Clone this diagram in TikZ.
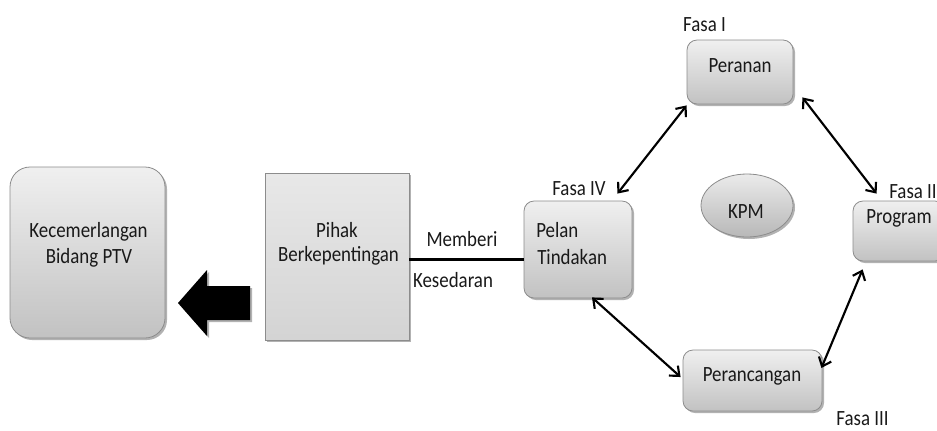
\documentclass[tikz,border=0pt]{standalone}
\usepackage{fontspec}
\setmainfont{Carlito}[FakeStretch=0.87]
\usetikzlibrary{shapes.geometric,shadows,arrows.meta}
\begin{document}
\begin{tikzpicture}[x=0.75pt,y=-0.75pt,
  txt/.style={font=\fontsize{16.3}{19}\selectfont, text=black!90, inner sep=0pt},
  gbox/.style={draw=black!45, line width=0.6pt, top color=black!6, bottom color=black!24,
    drop shadow={shadow xshift=1.5pt,shadow yshift=-1.5pt,opacity=0.3,fill=black},
    inner sep=0pt},
  rbox/.style={gbox, rounded corners=7.5pt},
  dbl/.style={line width=1.6pt, black, {Straight Barb[length=6pt,width=10pt]}-{Straight Barb[length=6pt,width=10pt]}}
]
\useasboundingbox (0,0) rectangle (937,430);

% boxes
\node[gbox, rounded corners=15pt, minimum width=116.25pt, minimum height=128.25pt] (kec) at (87.5,252.5) {};
\node[gbox, top color=black!9, bottom color=black!17, minimum width=108pt, minimum height=125.25pt] (pihak) at (337,256.5) {};
\node[rbox, minimum width=81pt, minimum height=72.75pt] (pelan) at (578,249.5) {};
\node[rbox, minimum width=79.5pt, minimum height=48pt] (peranan) at (740,72) {};
\node[rbox, minimum width=69pt, minimum height=45pt] (program) at (899,231) {};
\node[rbox, minimum width=104.25pt, minimum height=45.75pt] (perancangan) at (752.5,380.5) {};
\node[gbox, ellipse, minimum width=69pt, minimum height=47.25pt, top color=black!8, bottom color=black!28] (kpm) at (747,205.5) {};

% texts
\node[txt, anchor=base] (t1) at (88.5,237) {Kecemerlangan};
\node[txt, anchor=base] (t2) at (89,263) {Bidang PTV};
\node[txt, anchor=base] (t3) at (337,237) {Pihak};
\node[txt, anchor=base] (t4) at (338.5,261) {Berkepentingan};
\node[txt, anchor=base] (t5) at (462,246) {Memberi};
\node[txt, anchor=base] (t6) at (453,287) {Kesedaran};
\node[txt, anchor=base west] (t7) at (536,237) {Pelan};
\node[txt, anchor=base west] (t8) at (537,264) {Tindakan};
\node[txt, anchor=base] (t9) at (579,195) {Fasa IV};
\node[txt, anchor=base] (t10) at (740,72) {Peranan};
\node[txt, anchor=base] (t11) at (704.5,31) {Fasa I};
\node[txt, anchor=base] (t12) at (746,218) {KPM};
\node[txt, anchor=base west] (t13) at (866,223) {Program};
\node[txt, anchor=base west] (t14) at (889,198) {Fasa II};
\node[txt, anchor=base] (t15) at (752,381) {Perancangan};
\node[txt, anchor=base] (t16) at (862.5,425) {Fasa III};

% big black arrow
\fill[black, drop shadow={shadow xshift=1.5pt,shadow yshift=-1.5pt,opacity=0.3,fill=black}]
  (178,303) -- (207,270) -- (207,286) -- (250,286) -- (250,320) -- (207,320) -- (207,336) -- cycle;

% connector
\draw[line width=2pt, black] ([yshift=-2pt]pihak.east) -- ([yshift=-2pt]pihak.east -| pelan.west);

% double arrows
\draw[dbl] ([shift={(-11.25pt,5.25pt)}]pelan.north east) -- ([shift={(0pt,-0.75pt)}]peranan.south west);
\draw[dbl] ([shift={(6.75pt,5.25pt)}]peranan.south east) -- ([shift={(18pt,5.25pt)}]program.north west);
\draw[dbl] ([shift={(10.5pt,0.75pt)}]pelan.south) -- ([shift={(-1.5pt,2.6pt)}]perancangan.west);
\draw[dbl] ([shift={(-0.75pt,9.4pt)}]perancangan.east) -- ([shift={(7.5pt,-6pt)}]program.south west);
\end{tikzpicture}
\end{document}
